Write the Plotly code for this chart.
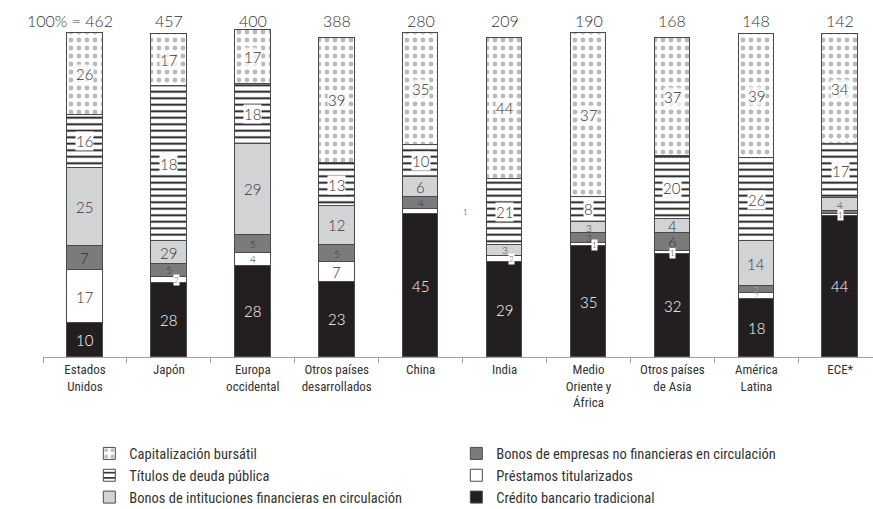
import numpy as np
import plotly.graph_objects as go

# ---------------- data ----------------
regiones = ["Estados<br>Unidos", "Japón", "Europa<br>occidental", "Otros países<br>desarrollados",
            "China", "India", "Medio<br>Oriente y<br>África", "Otros países<br>de Asia",
            "América<br>Latina", "ECE*"]
totales = [462, 457, 400, 388, 280, 209, 190, 168, 148, 142]

# drawn segment heights (% of total), bottom to top
credito =     [10.5, 23, 28.5, 23.5, 44.5, 29.5, 34.5, 32, 18, 44]
prestamos =   [16.5, 2, 4, 6, 1.5, 2, 1, 1, 2, 0.5]
empresas =    [7.5, 4, 5.5, 5.5, 4, 0, 3, 5.5, 2, 1]
inst_fin =    [24.5, 7, 28.5, 12, 6, 3.5, 3.5, 4.5, 14, 4]
titulos =     [16.5, 48.5, 18.5, 13.5, 10, 20.5, 8, 19.5, 26, 17]
capital =     [25.5, 16, 17, 39, 35, 44, 51, 37, 38.5, 34]

# printed labels
credito_etq =   [10, 28, 28, 23, 45, 29, 35, 32, 18, 44]
prestamos_etq = [17, 2, 4, 7, 1, 2, 1, 1, 2, 1]
empresas_etq =  [7, 5, 5, 5, 4, None, 3, 6, 2, None]
inst_fin_etq =  [25, 29, 29, 12, 6, 3, 3, 4, 14, 4]
titulos_etq =   [16, 18, 18, 13, 10, 21, 8, 20, 26, 17]
capital_etq =   [26, 17, 17, 39, 35, 44, 37, 37, 39, 34]

nombres = ["Crédito bancario tradicional", "Préstamos titularizados",
           "Bonos de empresas no financieras en circulación",
           "Bonos de intituciones financieras en circulación",
           "Títulos de deuda pública", "Capitalización bursátil"]

# ---------------- styling ----------------
LIGHT = "Lato"
NARROW = "Noto Sans Condensed, Roboto Condensed, DejaVu Sans Condensed, Arial Narrow, Roboto, sans-serif"
series = [
    (nombres[0], credito, credito_etq, dict(color="#231f20"), 6),
    (nombres[1], prestamos, prestamos_etq, dict(color="#ffffff"), 4),
    (nombres[2], empresas, empresas_etq, dict(color="#7b7b7b"), 2),
    (nombres[3], inst_fin, inst_fin_etq, dict(color="#d2d3d5"), 5),
    (nombres[4], titulos, titulos_etq,
     dict(color="#ffffff", pattern=dict(shape="-", fgcolor="#111111", bgcolor="#ffffff",
                                        size=6.5, solidity=0.28, fillmode="replace")), 3),
    (nombres[5], capital, capital_etq,
     dict(color="#ffffff", pattern=dict(shape=".", fgcolor="#bababa", bgcolor="#ffffff",
                                        size=8, solidity=0.3, fillmode="replace")), 1),
]

fig = go.Figure()
for name, vals, _, mk, rank in series:
    mk = dict(mk)
    mk["line"] = dict(color="#4a4a4a", width=1)
    fig.add_trace(go.Bar(x=regiones, y=vals, name=name, marker=mk, width=0.425,
                         legendrank=rank, hoverinfo="skip"))

annotations = []
base = np.zeros(len(regiones))
for si, (name, vals, etqs, mk, rank) in enumerate(series):
    for i, (h, lab) in enumerate(zip(vals, etqs)):
        if lab is not None:
            y = base[i] + h / 2
            color = "#ffffff" if si == 0 else "#333333"
            bg = None
            size = 15 if h >= 6 else 10
            if si in (2, 3) and i == 7:
                size = 15
            xshift = 0
            if si == 1 and h < 2.5:
                size = 8
                if i == 4:
                    xshift = 45
                elif i == 8:
                    color = "#777777"
                else:
                    bg = "#ffffff"
                    xshift = {1: 8, 5: 7, 6: 6}.get(i, 0)
            if si == 2 and h < 2.5:
                size = 8
                color = "#bbbbbb"
            if si in (4, 5):
                bg = "#ffffff" if si == 4 else "rgba(255,255,255,0.75)"
            annotations.append(dict(
                x=regiones[i], y=y, text=str(lab), showarrow=False, xshift=xshift,
                font=dict(family=LIGHT, size=size, color=color, weight=300),
                bgcolor=bg, borderpad=0))
    base += np.array(vals)

for i, t in enumerate(totales):
    if i == 0:
        annotations.append(dict(x=regiones[i], y=104.8, text=f"100% = {t}", showarrow=False,
                                xanchor="right", xshift=30,
                                font=dict(family=LIGHT, size=16, color="#333333", weight=300)))
    else:
        annotations.append(dict(x=regiones[i], y=104.8, text=str(t), showarrow=False,
                                font=dict(family=LIGHT, size=16, color="#333333", weight=300)))

fig.update_layout(
    width=873, height=509,
    margin=dict(l=43, r=0, t=4, b=152, autoexpand=False),
    barmode="stack", bargap=0,
    plot_bgcolor="white", paper_bgcolor="white",
    showlegend=True,
    legend=dict(orientation="h", x=0.0558, y=-0.228, xanchor="left", yanchor="top",
                traceorder="normal", entrywidth=322, entrywidthmode="pixels",
                font=dict(family=NARROW, size=14.5, color="#333333"),
                itemclick=False, tracegroupgap=0),
    annotations=annotations,
)
fig.update_xaxes(type="category", range=[-0.5, 9.39], tickson="boundaries",
                 showline=True, linecolor="#a0a0a0", linewidth=1,
                 ticks="outside", ticklen=5, tickcolor="#a0a0a0",
                 tickfont=dict(family=NARROW, size=13, color="#333333"),
                 showgrid=False, zeroline=False)
fig.update_yaxes(range=[0, 110], visible=False, showgrid=False, zeroline=False)

fig.write_html("out.html", config={"displayModeBar": False},
               post_script="document.body.style.margin='0';")
